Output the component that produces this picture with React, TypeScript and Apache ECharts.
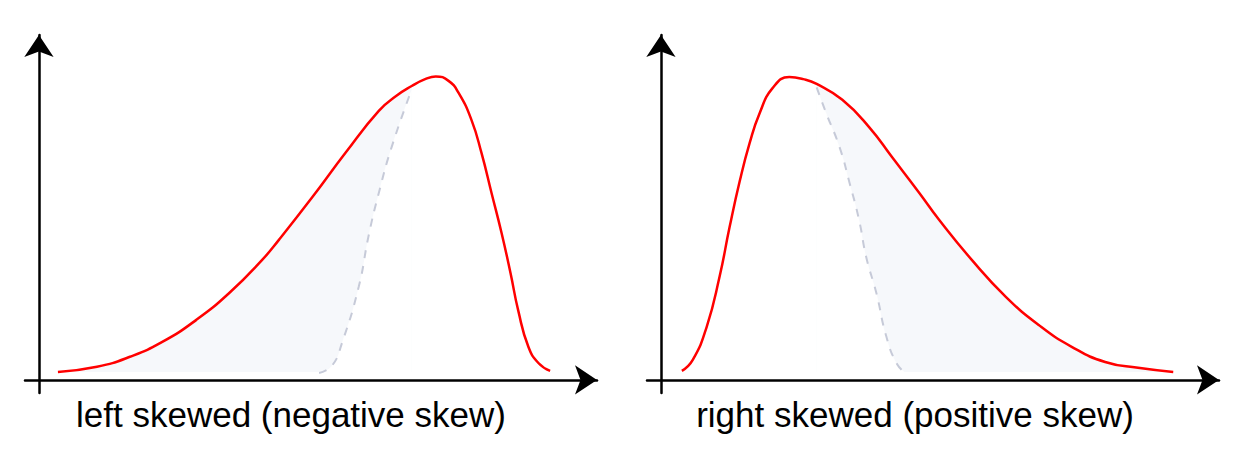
import React, { useEffect, useRef } from "react";
import * as echarts from "echarts";

// Left panel: negative (left) skew
const leftRedX = [0.34, 1.04, 1.63, 2.21, 2.82, 3.41, 4.0, 4.3, 4.9, 5.5, 6.09, 6.4, 6.68, 6.92, 7.11, 7.34, 7.52, 7.75, 7.93, 8.11, 8.29, 8.45, 8.59, 8.77, 8.95, 9.16];
const leftRedY = [0.23, 0.38, 0.67, 1.1, 1.74, 2.52, 3.48, 4.06, 5.3, 6.6, 7.8, 8.23, 8.52, 8.72, 8.8, 8.67, 8.32, 7.54, 6.58, 5.42, 4.26, 3.1, 2.0, 0.96, 0.49, 0.26];
const leftDashX = [5.02, 5.25, 5.43, 5.73, 5.91, 6.09, 6.32, 6.68];
const leftDashY = [0.2, 0.41, 1.07, 2.7, 4.2, 5.42, 6.75, 8.42];
const leftJunction = 6.68;

// Right panel: positive (right) skew
const rightRedX = [0.375, 0.57, 0.82, 1.05, 1.23, 1.41, 1.59, 1.77, 2.0, 2.3, 2.55, 2.79, 3.25, 3.73, 4.14, 4.63, 4.98, 5.57, 6.18, 6.77, 7.36, 7.96, 8.55, 9.18];
const rightRedY = [0.26, 0.58, 1.54, 2.99, 4.43, 5.75, 6.87, 7.74, 8.46, 8.78, 8.72, 8.58, 8.12, 7.33, 6.46, 5.42, 4.65, 3.48, 2.41, 1.59, 0.96, 0.52, 0.35, 0.23];
const rightDashX = [2.79, 2.96, 3.2, 3.38, 3.55, 3.68, 3.86, 4.04, 4.23, 4.39];
const rightDashY = [8.48, 7.74, 6.75, 5.71, 4.64, 3.55, 2.52, 1.25, 0.46, 0.2];
const rightJunction = 2.79;

const labels = ["left skewed (negative skew)", "right skewed (positive skew)"];
const baseLevel = 0.23;

const zip = (xs: number[], ys: number[]) => xs.map((x, i) => [x, ys[i]]);

export default function App() {
  const ref = useRef<HTMLDivElement>(null);
  useEffect(() => {
    if (!ref.current) return;
    const chart = echarts.init(ref.current, null, { renderer: "svg" });
    const RED = "#ff0000";
    const DASH = "#c6cad8";
    const FILL = "#f6f8fb";

    const axisLine = {
      show: true,
      onZero: true,
      symbol: ["none", "arrow"],
      symbolSize: [22, 22],
      lineStyle: { color: "#000", width: 2.5 },
    };
    const mkX = (gi: number) => ({
      type: "value",
      gridIndex: gi,
      min: -0.25,
      max: 10,
      axisLine,
      axisTick: { show: false },
      axisLabel: { show: false },
      splitLine: { show: false },
    });
    const mkY = (gi: number) => ({
      type: "value",
      gridIndex: gi,
      min: -0.38,
      max: 10,
      axisLine,
      axisTick: { show: false },
      axisLabel: { show: false },
      splitLine: { show: false },
    });

    const panels = [
      { red: zip(leftRedX, leftRedY), dash: zip(leftDashX, leftDashY), fill: zip(leftRedX, leftRedY).filter((p) => p[0] <= leftJunction) },
      { red: zip(rightRedX, rightRedY), dash: zip(rightDashX, rightDashY), fill: zip(rightRedX, rightRedY).filter((p) => p[0] >= rightJunction) },
    ];

    const series: any[] = [];
    panels.forEach((p, i) => {
      const common = {
        type: "line",
        xAxisIndex: i,
        yAxisIndex: i,
        showSymbol: false,
        symbol: "none",
        smooth: 0.5,
        silent: true,
      };
      series.push({ ...common, data: p.fill, z: 1, lineStyle: { width: 0 }, areaStyle: { color: FILL, opacity: 1, origin: baseLevel } });
      series.push({ ...common, data: p.dash, z: 2, lineStyle: { width: 0 }, areaStyle: { color: "#ffffff", opacity: 1, origin: baseLevel } });
      series.push({ ...common, data: p.dash, z: 3, lineStyle: { color: DASH, width: 2, type: [8, 8] } });
      series.push({ ...common, data: p.red, z: 4, lineStyle: { color: RED, width: 2.5 } });
    });

    const textStyle = { fontSize: 35, fontFamily: "Liberation Sans, Arial, sans-serif", fill: "#000", textAlign: "center", textVerticalAlign: "middle" };

    chart.setOption({
      animation: false,
      backgroundColor: "#ffffff",
      grid: [
        { left: 25, top: 35, width: 572, height: 358 },
        { left: 647, top: 35, width: 572, height: 358 },
      ],
      xAxis: [mkX(0), mkX(1)],
      yAxis: [mkY(0), mkY(1)],
      series,
      graphic: [
        { type: "text", x: 291, y: 414, style: { ...textStyle, text: labels[0] } },
        { type: "text", x: 915, y: 414, style: { ...textStyle, text: labels[1] } },
      ],
    });
    return () => chart.dispose();
  }, []);
  return <div ref={ref} style={{ position: "fixed", left: 0, top: 0, width: 1256, height: 452, background: "#fff" }} />;
}
